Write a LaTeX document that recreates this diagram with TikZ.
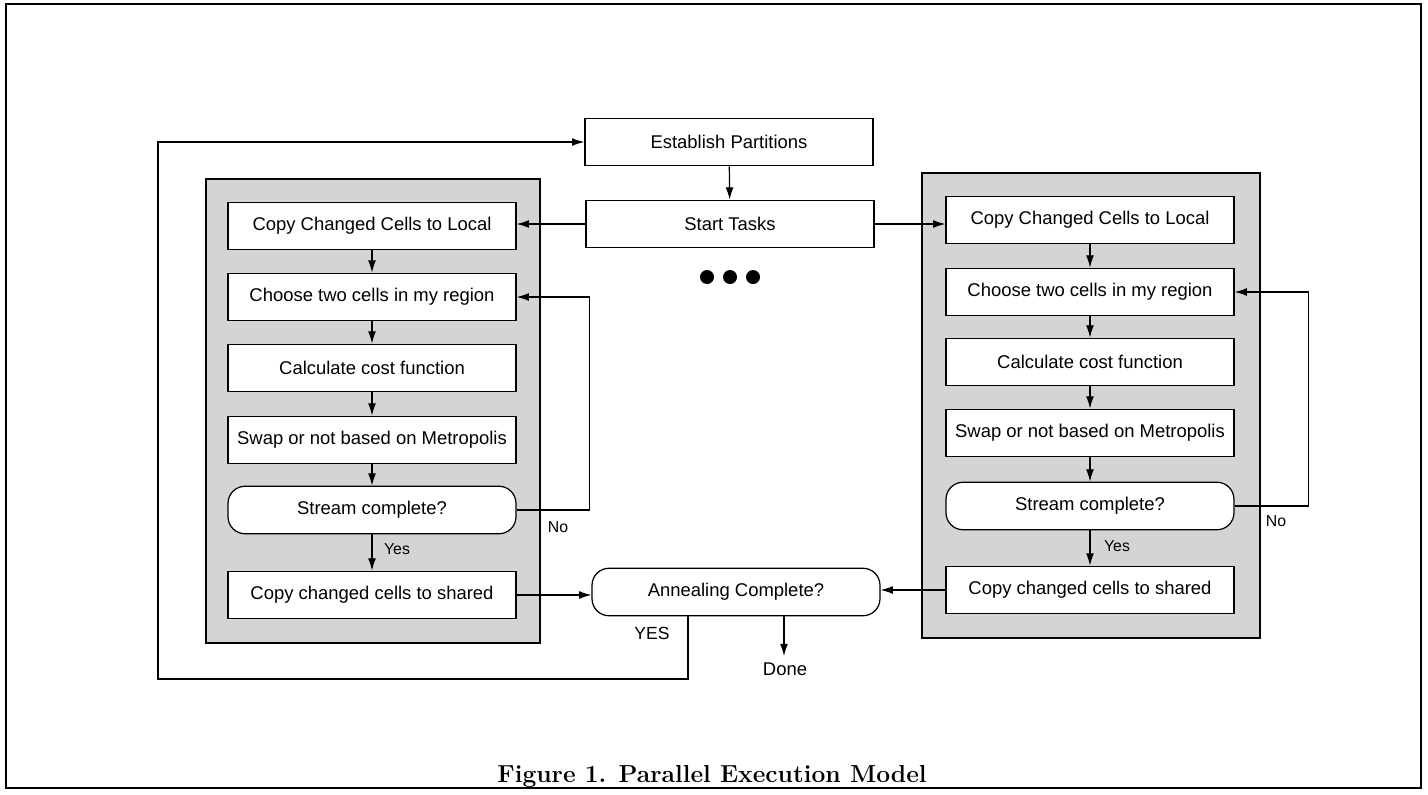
\documentclass[tikz,border=0pt]{standalone}
\usepackage{fontspec}
\setsansfont{Liberation Sans}
\usetikzlibrary{arrows.meta}

\begin{document}
\begin{tikzpicture}[x=0.02cm, y=-0.02cm, line width=0.7pt,
        >={Latex[length=7pt,width=4.5pt]},
        every node/.style={font=\sffamily\fontsize{10.5}{12}\selectfont},
        box/.style={draw, fill=white, minimum width=5.76cm, minimum height=0.95cm, inner sep=0pt},
        test/.style={box, rounded corners=0.34cm},
        panel/.style={draw, fill=black!17},
        lbl/.style={inner sep=1pt, font=\sffamily\fontsize{9}{10}\selectfont}]
        \useasboundingbox (0,0) rectangle (1428,795);
        \draw[line width=1.2pt] (6,4) rectangle (1421,788);

        % Pannelli
        \draw[panel] (206,179) rectangle (540,643);
        \draw[panel] (922,173) rectangle (1260,638);

        % Centro
        \node[box] (est) at (729,142) {Establish Partitions};
        \node[box] (start) at (730,224) {Start Tasks};
        \node[test] (ann) at (736,592) {Annealing Complete?};
        \node (done) at (785,669) {Done};
        \foreach \x in {707,730,753}
            \fill (\x,277) circle (0.14cm);

        % Colonna sinistra
        \node[box] (llocal) at (372,226) {Copy Changed Cells to Local};
        \node[box] (lchoose) at (372,297) {Choose two cells in my region};
        \node[box] (lcost) at (372,368) {Calculate cost function};
        \node[box] (lswap) at (372,440) {Swap or not based on Metropolis};
        \node[test] (lstream) at (372,510) {Stream complete?};
        \node[box] (lshared) at (372,595) {Copy changed cells to shared};

        % Colonna destra
        \node[box] (rlocal) at (1090,220) {Copy Changed Cells to Local};
        \node[box] (rchoose) at (1090,292) {Choose two cells in my region};
        \node[box] (rcost) at (1090,362) {Calculate cost function};
        \node[box] (rswap) at (1090,433) {Swap or not based on Metropolis};
        \node[test] (rstream) at (1090,506) {Stream complete?};
        \node[box] (rshared) at (1090,590) {Copy changed cells to shared};

        % Etichette
        \node[lbl] (lno) at (558,527) {No};
        \node[lbl] (lyes) at (397,549) {Yes};
        \node[lbl] (rno) at (1276,521) {No};
        \node[lbl] (ryes) at (1117,546) {Yes};
        \node[lbl, font=\sffamily\fontsize{10}{12}\selectfont] (annyes) at (652,633) {YES};

        \node[font=\bfseries\fontsize{14}{16}\selectfont] (caption) at (712,776) {Figure 1. Parallel Execution Model};

        % Collegamenti
        \coordinate (loopcorner) at (158,679);
        \draw[->] (est) -- (start);
        \draw[->] (start.west) -- (start.west -| llocal.east);
        \draw[->] (start.east) -- (start.east -| rlocal.west);
        \draw[->] (llocal) -- (lchoose);
        \draw[->] (lchoose) -- (lcost);
        \draw[->] (lcost) -- (lswap);
        \draw[->] (lswap) -- (lstream);
        \draw[->] (lstream) -- (lshared);
        \draw[->] (lstream.east) -- ++(73,0) |- (lchoose.east);
        \draw[->] (rlocal) -- (rchoose);
        \draw[->] (rchoose) -- (rcost);
        \draw[->] (rcost) -- (rswap);
        \draw[->] (rswap) -- (rstream);
        \draw[->] (rstream) -- (rshared);
        \draw[->] (rstream.east) -- ++(74,0) |- (rchoose.east);
        \draw[->] (lshared.east) -- (lshared.east -| ann.west);
        \draw[->] (rshared.west) -- (rshared.west -| ann.east);
        \draw[->] ([xshift=0.96cm]ann.south) -- ([xshift=0.96cm]ann.south |- done.north);
        \draw[->] ([xshift=-0.96cm]ann.south) |- (loopcorner) |- (est.west);
    \end{tikzpicture}
\end{document}
